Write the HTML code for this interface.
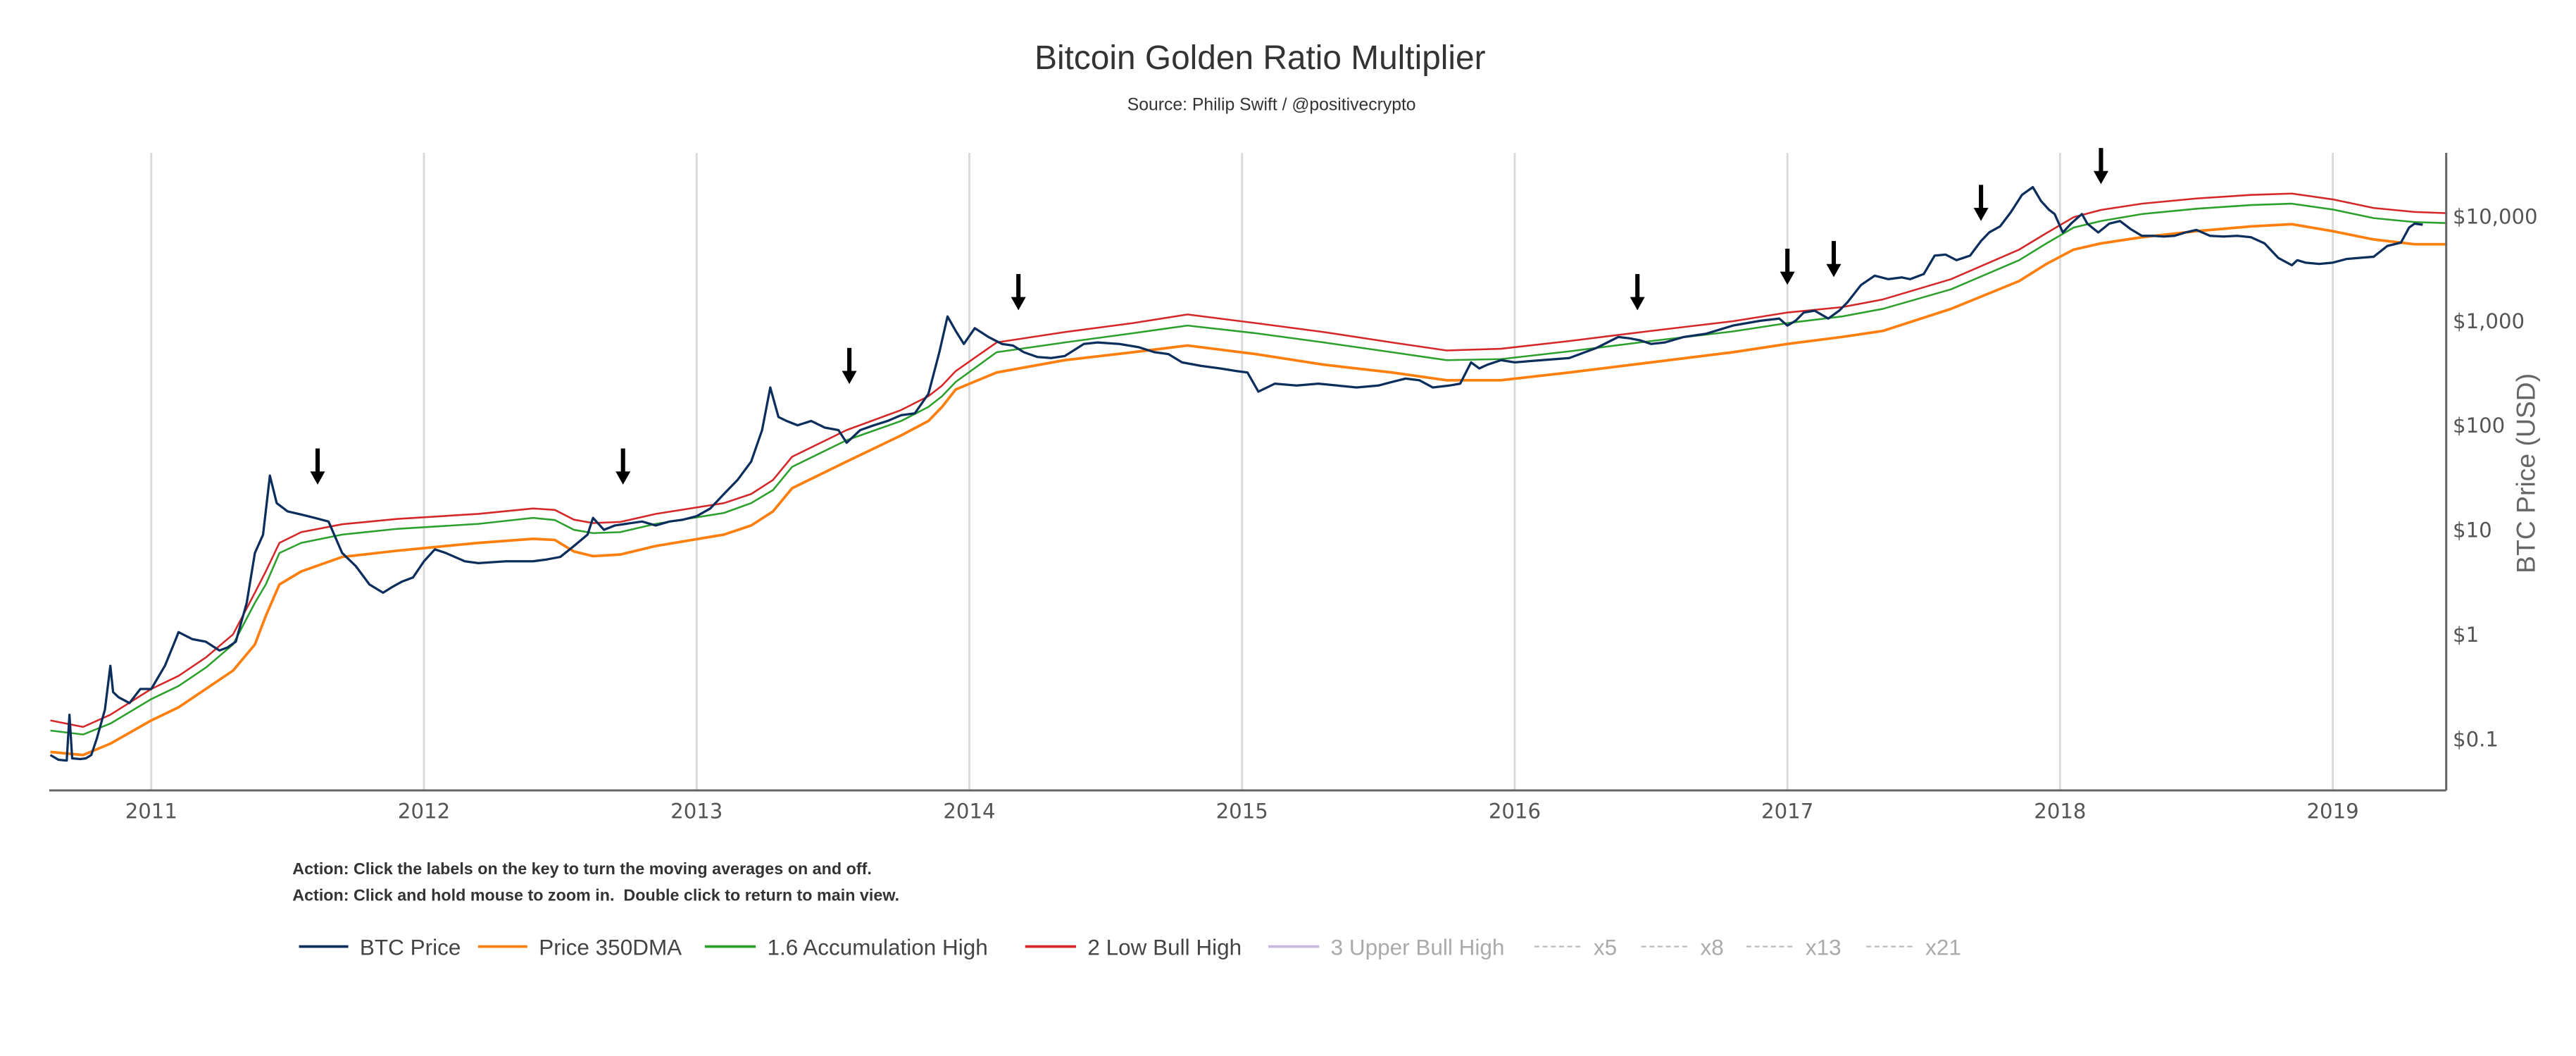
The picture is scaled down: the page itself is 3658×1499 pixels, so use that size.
<!DOCTYPE html>
<html><head><meta charset="utf-8"><style>
html,body{margin:0;padding:0;background:#fff;}
svg{display:block;}
</style></head><body>
<svg id="chart" width="3658" height="1499" viewBox="0 0 1568 642.6" preserveAspectRatio="none" xmlns="http://www.w3.org/2000/svg" font-family="'Liberation Sans', 'DejaVu Sans', sans-serif">
  <rect x="0" y="0" width="1568" height="642.6" fill="#fff"/>
  <text x="767" y="42" text-anchor="middle" font-size="20.5" fill="#333">Bitcoin Golden Ratio Multiplier</text>
  <text x="774" y="67" text-anchor="middle" font-size="10.6" fill="#333">Source: Philip Swift / @positivecrypto</text>
  <g id="grid"></g>
  <g id="series"></g>
  <g id="arrows"></g>
  <line x1="30" y1="481" x2="1489" y2="481" stroke="#666" stroke-width="1.3"/>
  <line x1="1489" y1="93" x2="1489" y2="481" stroke="#666" stroke-width="1.3"/>
  <g id="xticks"></g>
  <g id="yticks"></g>
  <text transform="translate(1543,288) rotate(-90)" text-anchor="middle" font-size="16" fill="#666">BTC Price (USD)</text>
  <text x="178" y="532" font-size="10" font-weight="bold" fill="#333">Action: Click the labels on the key to turn the moving averages on and off.</text>
  <text x="178" y="548" font-size="10" font-weight="bold" fill="#333" xml:space="preserve">Action: Click and hold mouse to zoom in.  Double click to return to main view.</text>
  <g id="legend"></g>
</svg>
<script>
const NS='http://www.w3.org/2000/svg';
const years=[2011,2012,2013,2014,2015,2016,2017,2018,2019];
const yTickValues=[0.1,1,10,100,1000,10000];
const yTickLabels=['$0.1','$1','$10','$100','$1,000','$10,000'];
const btcDates=[2010.63,2010.66,2010.69,2010.70,2010.71,2010.74,2010.76,2010.78,2010.80,2010.83,2010.85,2010.86,2010.88,2010.92,2010.96,2011.0,2011.05,2011.09,2011.1,2011.15,2011.2,2011.25,2011.28,2011.31,2011.35,2011.38,2011.41,2011.435,2011.46,2011.5,2011.55,2011.6,2011.65,2011.7,2011.75,2011.8,2011.85,2011.88,2011.92,2011.96,2012.0,2012.04,2012.08,2012.15,2012.2,2012.3,2012.4,2012.45,2012.5,2012.55,2012.6,2012.62,2012.66,2012.7,2012.75,2012.8,2012.85,2012.9,2012.95,2013.0,2013.05,2013.1,2013.15,2013.2,2013.24,2013.27,2013.3,2013.33,2013.37,2013.42,2013.47,2013.52,2013.55,2013.6,2013.65,2013.7,2013.75,2013.8,2013.85,2013.89,2013.92,2013.95,2013.98,2014.02,2014.07,2014.12,2014.16,2014.2,2014.25,2014.3,2014.35,2014.42,2014.47,2014.55,2014.62,2014.68,2014.73,2014.78,2014.85,2014.92,2014.98,2015.02,2015.06,2015.12,2015.2,2015.28,2015.35,2015.42,2015.5,2015.55,2015.6,2015.65,2015.7,2015.76,2015.8,2015.84,2015.87,2015.9,2015.95,2016.0,2016.05,2016.1,2016.2,2016.3,2016.38,2016.42,2016.46,2016.5,2016.55,2016.62,2016.7,2016.8,2016.9,2016.97,2017.0,2017.03,2017.06,2017.1,2017.15,2017.19,2017.22,2017.27,2017.32,2017.37,2017.42,2017.45,2017.5,2017.54,2017.58,2017.62,2017.67,2017.71,2017.74,2017.78,2017.82,2017.86,2017.9,2017.93,2017.96,2017.98,2018.01,2018.04,2018.08,2018.1,2018.14,2018.18,2018.22,2018.26,2018.3,2018.34,2018.38,2018.42,2018.46,2018.5,2018.55,2018.6,2018.65,2018.7,2018.75,2018.8,2018.85,2018.87,2018.9,2018.95,2019.0,2019.05,2019.1,2019.15,2019.2,2019.25,2019.28,2019.3,2019.33,2019.36,2019.39,2019.42];
const btcPrices=[0.07,0.063,0.062,0.17,0.065,0.064,0.065,0.07,0.1,0.19,0.5,0.28,0.25,0.22,0.3,0.3,0.5,0.9,1.05,0.9,0.85,0.7,0.75,0.85,2.0,6,9,33,18,15,14,13,12,6,4.5,3,2.5,2.8,3.2,3.5,5,6.5,6,5,4.8,5,5,5.2,5.5,7,9,13,10,11,11.5,12,11,12,12.5,13.5,16,22,30,45,90,230,120,110,100,110,95,90,68,90,100,110,125,130,200,500,1100,800,600,850,700,600,580,500,450,440,460,600,620,600,560,500,480,400,370,350,330,320,210,250,240,250,240,230,240,260,280,270,230,240,250,400,350,380,420,400,410,420,440,550,700,680,650,600,620,700,750,900,1000,1050,900,1000,1200,1250,1050,1250,1500,2200,2700,2500,2600,2500,2800,4200,4300,3800,4200,5800,7000,8000,11000,16000,19000,14000,11500,10500,7000,8500,10500,8500,7000,8500,9000,7500,6500,6500,6400,6500,7000,7400,6500,6400,6500,6300,5500,4000,3400,3800,3600,3500,3600,3900,4000,4100,5200,5600,7800,8500,8300];
const maDates=[2010.63,2010.75,2010.85,2011.0,2011.1,2011.2,2011.3,2011.38,2011.42,2011.47,2011.55,2011.7,2011.9,2012.2,2012.4,2012.48,2012.55,2012.62,2012.72,2012.85,2013.1,2013.2,2013.28,2013.35,2013.55,2013.75,2013.85,2013.9,2013.95,2014.1,2014.35,2014.6,2014.8,2015.05,2015.3,2015.55,2015.75,2015.95,2016.2,2016.5,2016.8,2017.0,2017.2,2017.35,2017.6,2017.85,2017.95,2018.05,2018.15,2018.3,2018.5,2018.7,2018.85,2019.0,2019.15,2019.3,2019.42];
const ma350=[0.075,0.07,0.09,0.15,0.2,0.3,0.45,0.8,1.5,3,4,5.5,6.3,7.5,8.2,8,6.2,5.6,5.8,7,9,11,15,25,45,80,110,150,220,320,420,500,580,480,380,320,270,270,320,400,500,600,700,800,1300,2400,3500,4800,5500,6300,7200,8000,8400,7200,6000,5400,5400];
const accHigh=[0.12,0.11,0.14,0.24,0.32,0.48,0.8,2,3,6,7.5,9,10.2,11.4,13,12.4,10,9.3,9.5,11.4,14.5,18,24,40,72,110,150,190,260,500,620,760,900,760,620,500,420,430,510,640,790,950,1100,1300,2000,3800,5500,7800,9000,10500,11800,12800,13200,11600,9600,8800,8600];
const bullHigh=[0.15,0.13,0.17,0.3,0.4,0.6,1.0,2.5,4,7.5,9.5,11.3,12.7,14.2,16,15.5,12.5,11.6,11.9,14.2,18,22,30,50,90,140,190,240,330,620,780,950,1150,950,780,620,520,540,640,800,990,1200,1350,1600,2500,4800,6900,9800,11500,13200,14800,16000,16500,14500,12000,11000,10700];
const arrowYears=[2011.61,2012.73,2013.56,2014.18,2016.45,2017.0,2017.17,2017.71,2018.15];
const arrowTopVals=[60,60,550,2800,2800,4900,5800,20000,45000];

const X0=30,X1=1489,D0=2010.626,D1=2019.416;
function xs(d){return X0+(d-D0)/(D1-D0)*(X1-X0);}
function ys(v){return 386-Math.log10(v)*63.6;}
function el(tag,attrs,parent){const e=document.createElementNS(NS,tag);for(const k in attrs)e.setAttribute(k,attrs[k]);parent.appendChild(e);return e;}

const grid=document.getElementById('grid'),xt=document.getElementById('xticks'),yt=document.getElementById('yticks');
years.forEach(y=>{
  const l=el('line',{x1:xs(y),x2:xs(y),y1:93,y2:481,stroke:'#d9d9d9','stroke-width':1.2},grid);
  
  
  const t=el('text',{x:xs(y),y:498,'text-anchor':'middle','font-size':12.5,fill:'#555','font-family':"'DejaVu Sans', sans-serif"},xt);
  t.textContent=y;
  
  
});
yTickValues.forEach((v,i)=>{
  const t=el('text',{x:1493,y:ys(v)+4.5,'font-size':12.5,fill:'#555','font-family':"'DejaVu Sans', sans-serif"},yt);
  t.textContent=yTickLabels[i];
  
  
});
const sg=document.getElementById('series');
function path(dates,vals,color,w,name){
  let d='';dates.forEach((t,i)=>{d+=(i?'L':'M')+xs(t).toFixed(2)+','+ys(vals[i]).toFixed(2);});
  const p=el('path',{d:d,fill:'none',stroke:color,'stroke-width':w,'stroke-linejoin':'round'},sg);
  
  
}
path(maDates,ma350,'#ff7f0e',1.6,'price-350dma-line');
path(maDates,accHigh,'#2ca02c',1.1,'accumulation-high-line');
path(maDates,bullHigh,'#d62728',1.1,'low-bull-high-line');
path(btcDates,btcPrices,'#0b2e5c',1.4,'btc-price-line');

const ag=document.getElementById('arrows');
arrowYears.forEach((a,i)=>{
  const x=xs(a),y0=ys(arrowTopVals[i]),y1=y0+22;
  const g=el('g',{},ag);
  
  
  el('line',{x1:x,x2:x,y1:y0,y2:y1-7,stroke:'#000','stroke-width':2.6},g);
  el('polygon',{points:(x-4.5)+','+(y1-8)+' '+(x+4.5)+','+(y1-8)+' '+x+','+y1,fill:'#000'},g);
});

const lg=document.getElementById('legend');
const legendItems=[
  {x:182,tx:219,label:'BTC Price',color:'#0b2e5c',dash:null,tc:'#444'},
  {x:291,tx:328,label:'Price 350DMA',color:'#ff7f0e',dash:null,tc:'#444'},
  {x:429,tx:467,label:'1.6 Accumulation High',color:'#2ca02c',dash:null,tc:'#444'},
  {x:624,tx:662,label:'2 Low Bull High',color:'#d62728',dash:null,tc:'#444'},
  {x:772,tx:810,label:'3 Upper Bull High',color:'#c9b8e0',dash:null,tc:'#aaa'},
  {x:934,tx:970,label:'x5',color:'#bbb',dash:'3,2',tc:'#aaa'},
  {x:999,tx:1035,label:'x8',color:'#bbb',dash:'3,2',tc:'#aaa'},
  {x:1063,tx:1099,label:'x13',color:'#bbb',dash:'3,2',tc:'#aaa'},
  {x:1136,tx:1172,label:'x21',color:'#bbb',dash:'3,2',tc:'#aaa'}
];
legendItems.forEach(it=>{
  const g=el('g',{},lg);
  
  
  const la={x1:it.x,x2:it.tx-7,y1:576,y2:576,stroke:it.color,'stroke-width':it.dash?1:1.6};
  if(it.dash)la['stroke-dasharray']=it.dash;
  el('line',la,g);
  const t=el('text',{x:it.tx,y:581,'font-size':13.5,fill:it.tc},g);
  t.textContent=it.label;
});
</script>
</body></html>
